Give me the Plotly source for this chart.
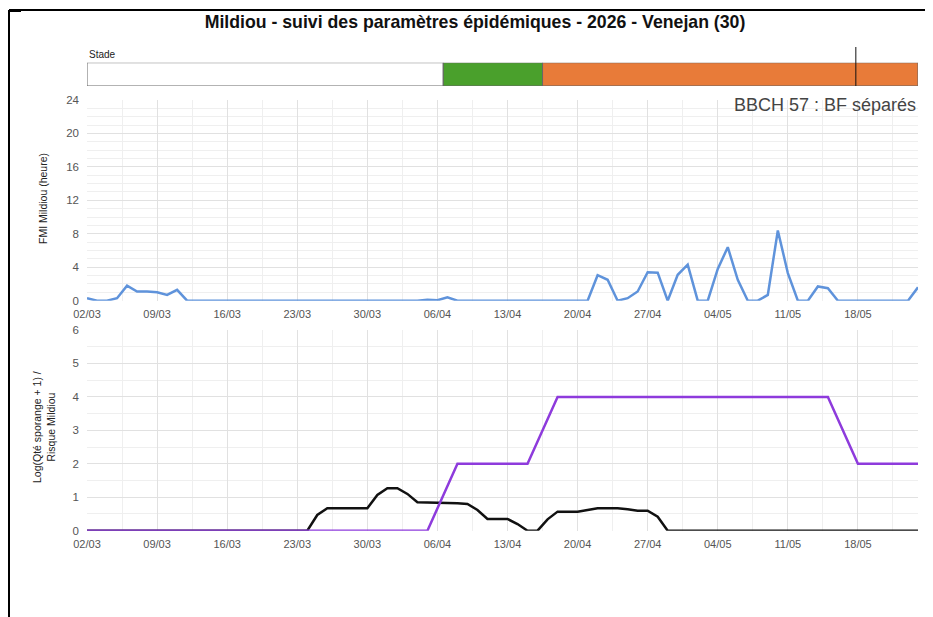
import plotly.graph_objects as go
import pandas as pd

# ---------------- data ----------------
dates = pd.date_range("2026-03-02", "2026-05-24", freq="D")  # 84 days

fmi_mildiou = [
    0.3, 0, 0, 0.3, 1.8, 1.1, 1.1, 1.0, 0.7, 1.3,       # 02/03 - 11/03
    0, 0, 0, 0, 0, 0, 0, 0, 0, 0,                        # 12/03 - 21/03
    0, 0, 0, 0, 0, 0, 0, 0, 0, 0,                        # 22/03 - 31/03
    0, 0, 0, 0, 0.1, 0.05, 0.4, 0, 0, 0,                 # 01/04 - 10/04
    0, 0, 0, 0, 0, 0, 0, 0, 0, 0,                        # 11/04 - 20/04
    0, 3.05, 2.5, 0, 0.3, 1.1, 3.4, 3.35, 0, 3.1,        # 21/04 - 30/04
    4.3, 0, 0, 3.8, 6.4, 2.5, 0, 0, 0.7, 8.4,            # 01/05 - 10/05
    3.3, 0, 0, 1.7, 1.5, 0, 0, 0, 0, 0,                  # 11/05 - 20/05
    0, 0, 0, 1.6,                                        # 21/05 - 24/05
]

log_sporange = [
    0, 0, 0, 0, 0, 0, 0, 0, 0, 0,                        # 02/03 - 11/03
    0, 0, 0, 0, 0, 0, 0, 0, 0, 0,                        # 12/03 - 21/03
    0, 0, 0, 0.47, 0.67, 0.67, 0.67, 0.67, 0.67, 1.07,   # 22/03 - 31/03
    1.27, 1.27, 1.1, 0.85, 0.85, 0.85, 0.83, 0.82, 0.8, 0.62,  # 01/04 - 10/04
    0.35, 0.35, 0.35, 0.2, 0, 0, 0.34, 0.57, 0.57, 0.57, # 11/04 - 20/04
    0.62, 0.67, 0.67, 0.67, 0.64, 0.6, 0.6, 0.42, 0, 0,  # 21/04 - 30/04
    0, 0, 0, 0, 0, 0, 0, 0, 0, 0,                        # 01/05 - 10/05
    0, 0, 0, 0, 0, 0, 0, 0, 0, 0,                        # 11/05 - 20/05
    0, 0, 0, 0,                                          # 21/05 - 24/05
]

risque_dates = ["2026-03-02", "2026-04-05", "2026-04-08", "2026-04-15",
                "2026-04-18", "2026-05-15", "2026-05-18", "2026-05-24"]
risque_values = [0, 0, 2, 2, 4, 4, 2, 2]

stade_start = ["2026-03-02 00:00", "2026-04-06 14:00", "2026-04-16 12:00"]
stade_end = ["2026-04-06 14:00", "2026-04-16 12:00", "2026-05-24 00:00"]
stade_colors = ["#ffffff", "#4aa02c", "#e87b39"]
stade_marker_date = "2026-05-17 19:00"

x_range = ["2026-03-02", "2026-05-24"]

title_text = "Mildiou - suivi des paramètres épidémiques - 2026 - Venejan (30)"
stade_label = "Stade"
bbch_label = "BBCH 57 : BF séparés"
y1_title = "FMI Mildiou (heure)"
y2_title = "Log(Qté sporange + 1) /<br>Risque Mildiou"

# ---------------- layout helpers ----------------
# the page body has an 8px margin, so the figure starts at page (8, 8)
OFF = 8
W, H = 925, 609
FONT = "Liberation Sans, Arial, sans-serif"

L, R = 87 - OFF, 918 - OFF   # plot area in figure pixels


def py(page_y):
    return 1 - (page_y - OFF) / H


def pxx(page_x):
    return (page_x - OFF - L) / (R - L)


durations = [(pd.Timestamp(e) - pd.Timestamp(s)).total_seconds() * 1000
             for s, e in zip(stade_start, stade_end)]

fig = go.Figure()

fig.add_trace(go.Bar(
    y=[0] * len(stade_start), x=durations, base=stade_start,
    orientation="h", width=1,
    marker=dict(color=stade_colors, line=dict(color="#666666", width=1)),
    xaxis="x3", yaxis="y3", hoverinfo="skip",
))

fig.add_trace(go.Scatter(
    x=dates, y=fmi_mildiou, mode="lines",
    line=dict(color="#5f93db", width=2.5),
    xaxis="x", yaxis="y",
))

fig.add_trace(go.Scatter(
    x=dates, y=log_sporange, mode="lines",
    line=dict(color="#111111", width=2.5),
    xaxis="x2", yaxis="y2",
))

fig.add_trace(go.Scatter(
    x=risque_dates, y=risque_values, mode="lines",
    line=dict(color="#8e3bdc", width=2.5),
    xaxis="x2", yaxis="y2",
))

grid_major = "#e1e1e1"
grid_minor = "#efefef"
tickfont = dict(family=FONT, size=11, color="#555555")

xcommon = dict(
    type="date", range=x_range, tick0="2026-03-02", dtick=7 * 86400000,
    tickformat="%d/%m", showgrid=True, gridcolor=grid_major, gridwidth=1,
    minor=dict(dtick=3.5 * 86400000, tick0="2026-03-02", showgrid=True,
               gridcolor=grid_minor),
    zeroline=False, showline=False, ticks="", tickfont=tickfont,
    ticklabelstandoff=5, automargin=False,
)

ycommon = dict(
    showgrid=True, gridcolor=grid_major, zeroline=False, showline=False,
    ticks="", tickfont=dict(family=FONT, size=11.5, color="#555555"),
    ticklabelstandoff=7, automargin=False, tick0=0,
)

fig.update_layout(
    width=W, height=H,
    margin=dict(l=L, r=W - R, t=0, b=0, autoexpand=False),
    paper_bgcolor="white", plot_bgcolor="white",
    showlegend=False,
    font=dict(family=FONT),
    title=dict(text="<b>" + title_text + "</b>",
               x=(475 - OFF) / W, xanchor="center",
               xref="container", yref="container",
               y=1 - (22 - OFF) / H, yanchor="middle",
               font=dict(family=FONT, size=17.7, color="#111111")),
    xaxis=dict(domain=[0, 1], anchor="y", **xcommon),
    xaxis2=dict(domain=[0, 1], anchor="y2", matches="x", **xcommon),
    xaxis3=dict(domain=[0, 1], anchor="y3", matches="x", type="date",
                range=x_range, showgrid=False, showticklabels=False,
                zeroline=False, showline=False, ticks="", automargin=False),
    yaxis=dict(domain=[py(300.7), py(100)], anchor="x", range=[0, 24],
               dtick=4, minor=dict(dtick=1, showgrid=True,
                                   gridcolor=grid_minor), **ycommon),
    yaxis2=dict(domain=[py(530.7), py(330)], anchor="x2", range=[0, 6],
                dtick=1, minor=dict(dtick=0.5, showgrid=True,
                                    gridcolor=grid_minor), **ycommon),
    yaxis3=dict(domain=[py(86), py(62.7)], anchor="x3", range=[-0.5, 0.5],
                showgrid=False, showticklabels=False, zeroline=False,
                showline=False, fixedrange=True, automargin=False),
)

annotations = [
    dict(text=stade_label, xref="paper", yref="paper", x=0, y=py(54),
         xanchor="left", yanchor="middle", showarrow=False,
         font=dict(family=FONT, size=10, color="#222222")),
    dict(text=bbch_label, xref="paper", yref="paper", x=1, y=py(105),
         xanchor="right", yanchor="middle", showarrow=False,
         font=dict(family=FONT, size=18, color="#444444")),
    dict(text=y1_title, xref="paper", yref="paper", x=pxx(43), y=py(199),
         xanchor="center", yanchor="middle", showarrow=False, textangle=-90,
         font=dict(family=FONT, size=10.5, color="#222222")),
    dict(text=y2_title, xref="paper", yref="paper", x=pxx(44), y=py(427),
         xanchor="center", yanchor="middle", showarrow=False, textangle=-90,
         font=dict(family=FONT, size=10.5, color="#222222")),
]
fig.update_layout(annotations=annotations)

shapes = [
    # current-stage marker on the stage bar
    dict(type="line", xref="x3", yref="paper",
         x0=stade_marker_date, x1=stade_marker_date,
         y0=py(86), y1=py(47), line=dict(color="#111111", width=1)),
    # outer frame (left and top edges)
    dict(type="line", xref="paper", yref="paper", x0=pxx(9), x1=pxx(9),
         y0=py(10), y1=py(640), line=dict(color="#000000", width=2)),
    dict(type="line", xref="paper", yref="paper", x0=pxx(9), x1=pxx(940),
         y0=py(10), y1=py(10), line=dict(color="#000000", width=2)),
    dict(type="line", xref="paper", yref="paper", x0=pxx(9), x1=pxx(21),
         y0=py(10.5), y1=py(10.5), line=dict(color="#000000", width=3)),
]
fig.update_layout(shapes=shapes)

fig.write_html("out.html")
